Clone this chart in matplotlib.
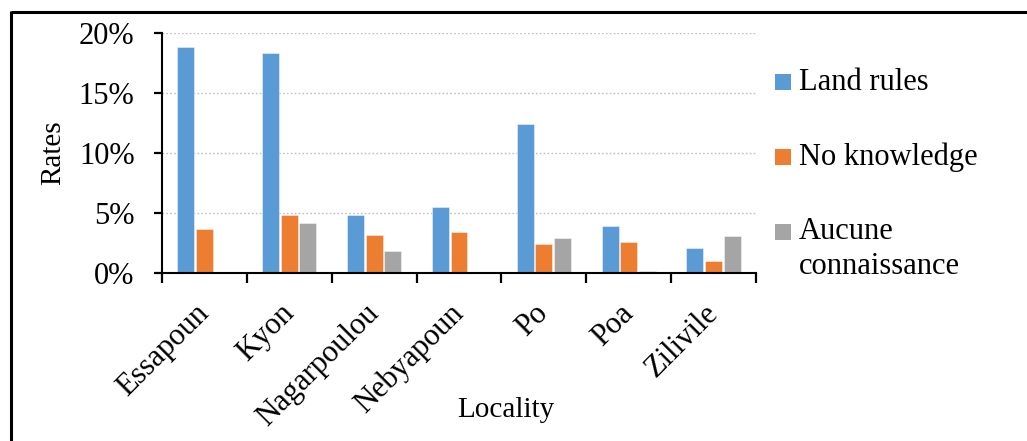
import numpy as np
import matplotlib
matplotlib.use("Agg")
import matplotlib.pyplot as plt
from matplotlib.lines import Line2D
from matplotlib.patches import Rectangle
from matplotlib.ticker import PercentFormatter

# Share of respondents per locality (%)
localities = ["Essapoun", "Kyon", "Nagarpoulou", "Nebyapoun", "Po", "Poa", "Zilivile"]
land_rules = [18.8, 18.3, 4.8, 5.5, 12.4, 3.9, 2.1]
no_knowledge = [3.7, 4.8, 3.2, 3.4, 2.4, 2.6, 1.0]
aucune_connaissance = [0.0, 4.2, 1.8, 0.0, 2.9, 0.2, 3.1]

series_names = ["Land rules", "No knowledge", "Aucune\nconnaissance"]
series_colors = ["#5B9BD5", "#ED7D31", "#A5A5A5"]
y_ticks = [0, 5, 10, 15, 20]

plt.rcParams["font.family"] = ["Liberation Serif", "DejaVu Serif"]

W, H = 1027, 441
fig = plt.figure(figsize=(W / 100, H / 100), dpi=100)
ax = fig.add_axes([162 / W, 1 - 273 / H, (756 - 162) / W, (273 - 33) / H])

x = np.arange(len(localities))
slot = 0.22
for i, (vals, col) in enumerate(zip([land_rules, no_knowledge, aucune_connaissance], series_colors)):
    ax.bar(x + (i - 1) * slot, vals, width=0.2, color=col,
           edgecolor=(1, 1, 1, 0.6), linewidth=0.5, zorder=3)

ax.set_xlim(-0.5, len(localities) - 0.5)
ax.set_ylim(0, 20)
ax.set_yticks(y_ticks)
ax.yaxis.set_major_formatter(PercentFormatter(decimals=0))
ax.grid(axis="y", linestyle=(0, (1.2, 1.6)), color="#BFBFBF", linewidth=1.0, zorder=0)

# category boundaries carry the tick marks, centres carry the names
ax.set_xticks(np.arange(len(localities) + 1) - 0.5)
ax.set_xticklabels([])
ax.set_xticks(x, localities, minor=True)
ax.tick_params(axis="x", which="major", direction="out", length=7, width=1.6, color="black")
ax.tick_params(axis="x", which="minor", length=0, labelsize=22, pad=26)
for lab in ax.get_xticklabels(minor=True):
    lab.set_rotation(45)
    lab.set_ha("right")
    lab.set_va("center")
    lab.set_rotation_mode("anchor")
ax.tick_params(axis="y", direction="out", length=5.8, width=1.6, color="black",
               labelsize=22, pad=14)

for side in ("top", "right"):
    ax.spines[side].set_visible(False)
for side in ("left", "bottom"):
    ax.spines[side].set_linewidth(1.5)
    ax.spines[side].set_color("black")
    ax.spines[side].set_zorder(4)

fig.text(53 / W, 1 - 153 / H, "Rates", rotation=90, ha="center", va="center", fontsize=21)
fig.text(506 / W, 1 - 410 / H, "Locality", ha="center", va="center", fontsize=21)

# legend drawn as squares with labels to the right
entry_y = [82, 157, 232]
for name, col, yc in zip(series_names, series_colors, entry_y):
    fig.add_artist(Rectangle((775 / W, 1 - (yc + 8) / H), 16 / W, 16 / H,
                             transform=fig.transFigure, facecolor=col, edgecolor="none"))
    for k, line in enumerate(name.split("\n")):
        fig.text(799 / W, 1 - (yc + 35 * k) / H, line, ha="left", va="center", fontsize=22)

# outer frame along the top and left edges
fig.add_artist(Line2D([10.5 / W, 1.0], [1 - 12 / H, 1 - 12 / H], transform=fig.transFigure,
                      color="black", linewidth=2.2, solid_capstyle="butt"))
fig.add_artist(Line2D([10.5 / W, 10.5 / W], [1 - 11 / H, 0.0], transform=fig.transFigure,
                      color="black", linewidth=2.2, solid_capstyle="butt"))

fig.savefig("out.png", dpi=100, facecolor="white")
